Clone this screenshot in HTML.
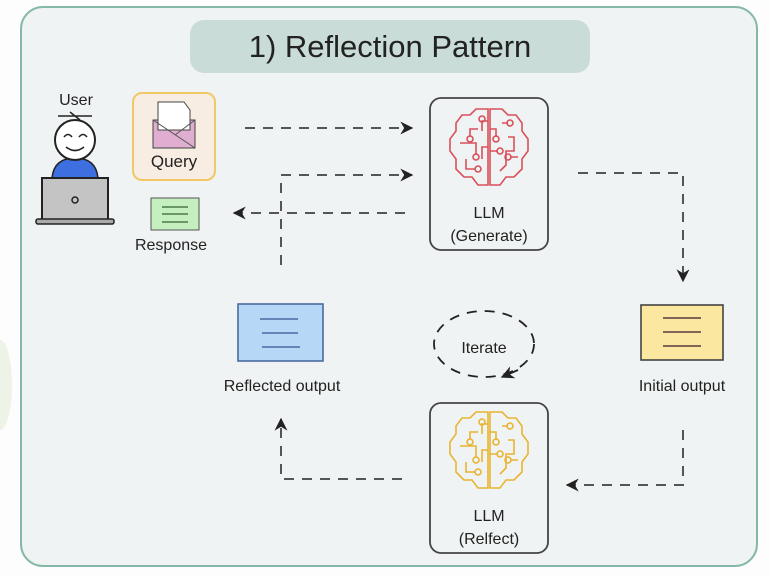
<!DOCTYPE html>
<html><head><meta charset="utf-8"><style>
html,body{margin:0;padding:0;background:#fcfdfc;}
svg{display:block;font-family:"Liberation Sans",sans-serif;}
</style></head><body>
<svg width="770" height="576" viewBox="0 0 770 576" xmlns="http://www.w3.org/2000/svg">
<defs>
<marker id="ah" viewBox="0 0 10 10" refX="9" refY="5" markerWidth="13" markerHeight="13" orient="auto-start-reverse" markerUnits="userSpaceOnUse">
<path d="M0,0 L10,5 L0,10 L3,5 z" fill="#222"/></marker>
<g id="brain" fill="none" stroke-width="1.6">
<path d="M40,2 L28,2 L22,8 L14,8 L8,16 L8,24 L2,32 L2,44 L8,52 L8,62 L16,70 L24,70 L30,78 L40,78 Z"/>
<path d="M42,2 L54,2 L60,8 L68,8 L74,16 L74,24 L80,32 L80,44 L74,52 L74,62 L66,70 L58,70 L52,78 L42,78 Z"/>
<path d="M40,14 L34,14 L34,24 M30,22 L22,22 L22,30 M12,36 L28,36 L28,48 M40,40 L34,40 L34,52 M18,52 L18,62 L28,62 M42,22 L48,22 L48,30 M60,16 L54,16 M42,44 L50,44 M60,30 L66,30 L66,44 L58,44 L58,58 L52,64 M70,50 L62,50"/>
<circle cx="34" cy="12" r="3"/><circle cx="22" cy="32" r="3"/><circle cx="28" cy="50" r="3"/><circle cx="30" cy="62" r="3"/><circle cx="62" cy="16" r="3"/><circle cx="48" cy="32" r="3"/><circle cx="52" cy="44" r="3"/><circle cx="60" cy="50" r="3"/>
</g>
</defs>
<ellipse cx="0" cy="385" rx="12" ry="45" fill="#eef3e8"/>
<rect x="21" y="7" width="736" height="559" rx="22" fill="#f0f3f3" stroke="#86b8a8" stroke-width="2"/>
<rect x="190" y="20" width="400" height="53" rx="14" fill="#c9dcd7"/>
<text x="390" y="57" font-size="31" text-anchor="middle" fill="#222">1) Reflection Pattern</text>

<!-- user -->
<text x="76" y="105" font-size="16" text-anchor="middle" fill="#222">User</text>
<path d="M58,116 L92,116 M70,112 L80,120" stroke="#222" stroke-width="1.5"/>
<path d="M52,178 Q54,158 75,158 Q96,158 98,178 Z" fill="#3d6fe0" stroke="#222" stroke-width="1.5"/>
<circle cx="75" cy="140" r="20" fill="#fff" stroke="#222" stroke-width="2"/>
<path d="M64,137 q4,-5 8,0 M79,137 q4,-5 8,0 M66,147 q9,7 18,0" fill="none" stroke="#222" stroke-width="1.6"/>
<rect x="42" y="178" width="66" height="42" fill="#c4c4c4" stroke="#222" stroke-width="2"/>
<rect x="36" y="219" width="78" height="5" rx="2" fill="#aaa" stroke="#222" stroke-width="1.5"/>
<circle cx="75" cy="200" r="3" fill="none" stroke="#222" stroke-width="1.5"/>

<!-- query -->
<rect x="133" y="93" width="82" height="87" rx="9" fill="#f7ede2" stroke="#f0c866" stroke-width="2"/>
<rect x="153" y="120" width="42" height="28" fill="#dfaed0" stroke="#444" stroke-width="1"/>
<path d="M158,102 L184,102 L190,110 L190,130 L158,130 Z" fill="#fff" stroke="#444" stroke-width="1"/>
<path d="M153,120 L195,148 M195,120 L175,135" stroke="#555" stroke-width="1" fill="none"/>
<text x="174" y="167" font-size="17" text-anchor="middle" fill="#222">Query</text>

<!-- response -->
<rect x="151" y="198" width="48" height="32" fill="#c6efc0" stroke="#555" stroke-width="1"/>
<path d="M162,207 h26 M162,214 h26 M162,222 h26" stroke="#4a7a4a" stroke-width="1.4"/>
<text x="171" y="250" font-size="16" text-anchor="middle" fill="#222">Response</text>

<!-- LLM generate -->
<rect x="430" y="98" width="118" height="152" rx="11" fill="#f0f3f3" stroke="#444" stroke-width="1.8"/>
<use href="#brain" x="448" y="107" stroke="#d9505a"/>
<text x="489" y="218" font-size="16" text-anchor="middle" fill="#222">LLM</text>
<text x="489" y="241" font-size="16" text-anchor="middle" fill="#222">(Generate)</text>

<!-- LLM reflect -->
<rect x="430" y="403" width="118" height="150" rx="11" fill="#f0f3f3" stroke="#444" stroke-width="1.8"/>
<use href="#brain" x="448" y="410" stroke="#e8b431"/>
<text x="489" y="521" font-size="16" text-anchor="middle" fill="#222">LLM</text>
<text x="489" y="544" font-size="16" text-anchor="middle" fill="#222">(Relfect)</text>

<!-- initial output -->
<rect x="641" y="305" width="82" height="55" fill="#fbe7a0" stroke="#444" stroke-width="1.6"/>
<path d="M663,318 h38 M663,332 h38 M663,346 h38" stroke="#5a3a3a" stroke-width="1.6"/>
<text x="682" y="391" font-size="16" text-anchor="middle" fill="#222">Initial output</text>

<!-- reflected output -->
<rect x="238" y="304" width="85" height="57" fill="#b7d7f7" stroke="#4a6aa0" stroke-width="1.6"/>
<path d="M260,319 h38 M262,333 h36 M262,347 h38" stroke="#4a6aa0" stroke-width="1.6"/>
<text x="282" y="391" font-size="16" text-anchor="middle" fill="#222">Reflected output</text>

<!-- iterate -->
<ellipse cx="484" cy="344" rx="50" ry="33" fill="none" stroke="#222" stroke-width="1.8" stroke-dasharray="10,8"/>
<text x="484" y="353" font-size="16" text-anchor="middle" fill="#222">Iterate</text>
<path d="M518,370 L502,377" stroke="#222" stroke-width="1.8" marker-end="url(#ah)"/>

<!-- connectors -->
<g fill="none" stroke="#555" stroke-width="2" stroke-dasharray="10,8">
<path d="M245,128 L412,128" marker-end="url(#ah)"/>
<path d="M281,265 L281,175 L412,175" marker-end="url(#ah)"/>
<path d="M405,213 L234,213" marker-end="url(#ah)"/>
<path d="M578,173 L683,173 L683,281" marker-end="url(#ah)"/>
<path d="M683,430 L683,485 L567,485" marker-end="url(#ah)"/>
<path d="M402,479 L281,479 L281,419" marker-end="url(#ah)"/>
</g>
</svg>
</body></html>
